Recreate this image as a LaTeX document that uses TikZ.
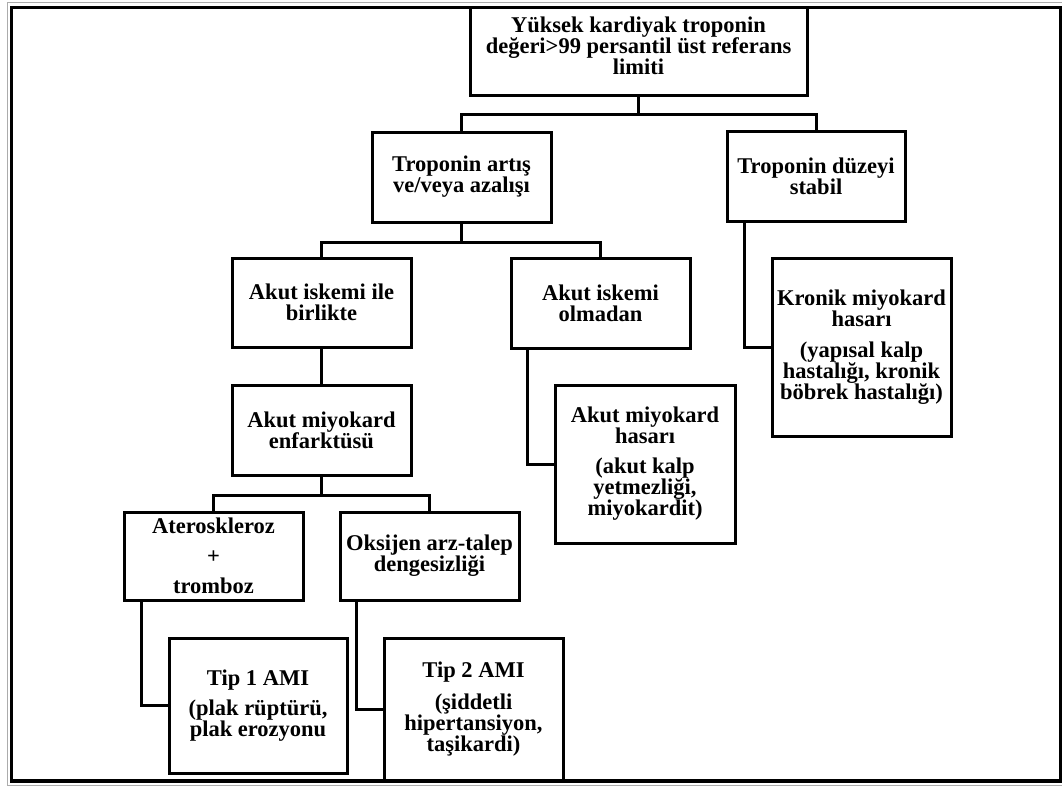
\documentclass[tikz,border=0pt]{standalone}
\usepackage{fontspec}
\setmainfont{Liberation Serif}
\begin{document}
\begin{tikzpicture}[x=1pt,y=-1pt,
  box/.style={draw, line width=3pt, rectangle, inner sep=0pt, align=center,
    font=\bfseries\fontsize{22.5}{21}\selectfont},
  link/.style={line width=3pt},
]
\useasboundingbox (0,0) rectangle (1062,787);

% outer page frame: thin grey rule with a heavy black rule inside
\draw[gray!65, line width=1.2pt] (7.5,2.8) rectangle (1075,785.2);
\draw[black, line width=3.5pt] (11.5,7.5) rectangle (1060.5,781);

% boxes
\node[box, minimum width=337pt, minimum height=87.5pt, text depth=12pt] (top) at (638.5,51.25)
  {Yüksek kardiyak troponin\\ değeri>99 persantil üst referans\\ limiti};
\node[box, minimum width=179pt, minimum height=90pt] (artis) at (461.5,177)
  {Troponin artış\\ ve/veya azalışı};
\node[box, minimum width=178pt, minimum height=90pt] (stabil) at (816,176)
  {Troponin düzeyi\\ stabil};
\node[box, minimum width=179pt, minimum height=89pt] (ile) at (321.5,302.5)
  {Akut iskemi ile\\ birlikte};
\node[box, minimum width=179pt, minimum height=90pt] (olmadan) at (600.5,303)
  {Akut iskemi\\ olmadan};
\node[box, minimum width=179pt, minimum height=178pt] (kronik) at (861.5,347)
  {Kronik miyokard\\ hasarı\\[10pt] (yapısal kalp\\ hastalığı, kronik\\ böbrek hastalığı)};
\node[box, minimum width=179pt, minimum height=90pt] (enf) at (321.5,430)
  {Akut miyokard\\ enfarktüsü};
\node[box, minimum width=180pt, minimum height=158pt] (hasar) at (645,464)
  {Akut miyokard\\ hasarı\\[9pt] (akut kalp\\ yetmezliği,\\ miyokardit)};
\node[box, minimum width=179pt, minimum height=88pt] (atero) at (213.5,556)
  {Ateroskleroz\\[9pt] +\\[9pt] tromboz};
\node[box, minimum width=179pt, minimum height=88pt] (oksijen) at (429.5,556)
  {Oksijen arz-talep\\ dengesizliği};
\node[box, minimum width=178pt, minimum height=135pt] (tip1) at (258,705.5)
  {Tip 1 AMI\\[9pt] (plak rüptürü,\\ plak erozyonu};
\node[box, minimum width=179pt, minimum height=142pt] (tip2) at (473.5,709)
  {Tip 2 AMI\\[11pt] (şiddetli\\ hipertansiyon,\\ taşikardi)};

% connectors
\draw[link] (top.south) -- ++(0,18) coordinate (j1);
\draw[link] (artis.north) |- (j1) -| (stabil.north);
\draw[link] (artis.south) -- ++(0,19) coordinate (j2);
\draw[link] (ile.north) |- (j2) -| (olmadan.north);
\draw[link] (ile.south) -- (enf.north);
\draw[link] (enf.south) -- ++(0,19) coordinate (j3);
\draw[link] (atero.north) |- (j3) -| (oksijen.north);
\draw[link] ([xshift=19pt]stabil.south west) |- (kronik.west);
\draw[link] ([xshift=18pt]olmadan.south west) |- (hasar.west);
\draw[link] ([xshift=19pt]atero.south west) |- (tip1.west);
\draw[link] ([xshift=18pt]oksijen.south west) |- (tip2.west);
\end{tikzpicture}
\end{document}
